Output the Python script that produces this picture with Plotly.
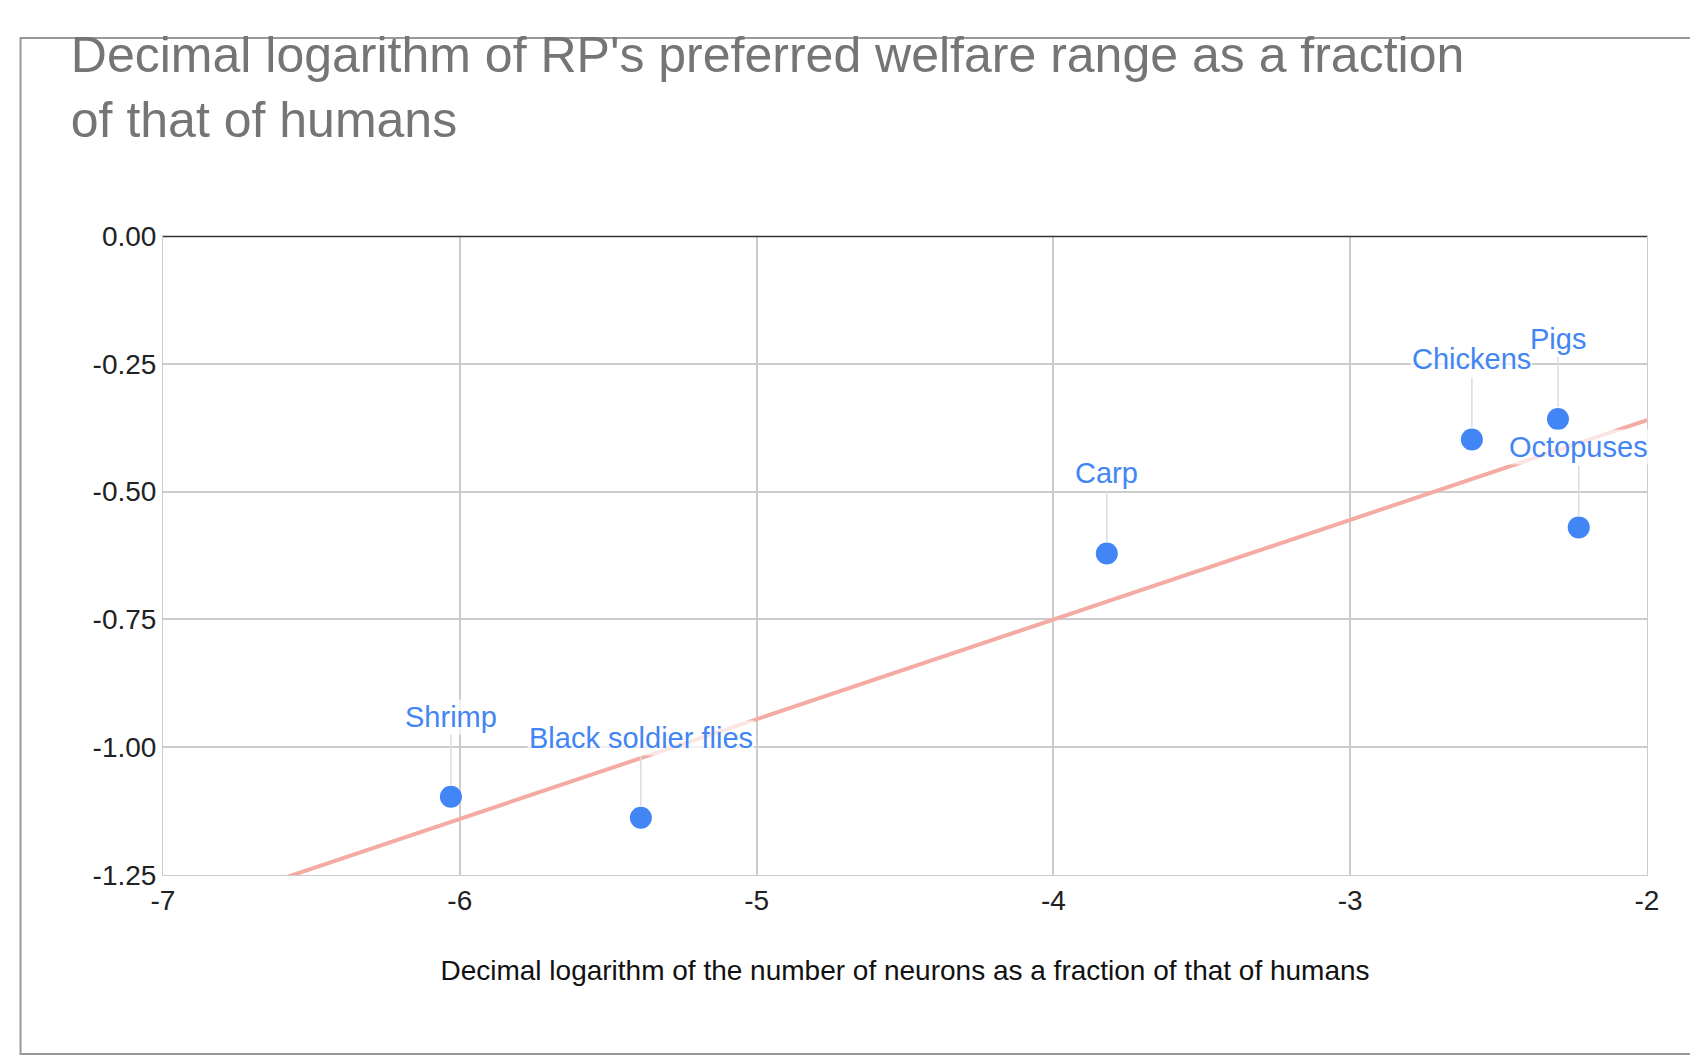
import numpy as np
import plotly.graph_objects as go

names = ["Shrimp", "Black soldier flies", "Carp", "Chickens", "Pigs", "Octopuses"]
x_vals = [-6.03, -5.39, -3.82, -2.59, -2.30, -2.23]
y_vals = [-1.097, -1.138, -0.621, -0.398, -0.358, -0.570]
x_ticks = [-7, -6, -5, -4, -3, -2]
x_tick_labels = ["-7", "-6", "-5", "-4", "-3", "-2"]
y_ticks = [0, -0.25, -0.5, -0.75, -1.0, -1.25]
y_tick_labels = ["0.00", "-0.25", "-0.50", "-0.75", "-1.00", "-1.25"]

slope, intercept = np.polyfit(x_vals, y_vals, 1)
tx = np.array([-7, -2])
ty = slope * tx + intercept

F = "Liberation Sans"
fig = go.Figure()
fig.add_trace(go.Scatter(x=tx, y=ty, mode="lines", line=dict(color="#f4aba3", width=4), hoverinfo="skip"))
fig.add_trace(go.Scatter(x=x_vals, y=y_vals, mode="markers", marker=dict(color="#4285f4", size=22)))

for n, x, y in zip(names, x_vals, y_vals):
    fig.add_annotation(x=x, y=y, text=n, showarrow=True, arrowhead=0, arrowcolor="#dddddd",
                       arrowwidth=1.5, ax=0, ay=-62, font=dict(color="#4285f4", size=29, family=F),
                       standoff=12, yanchor="bottom", bgcolor="rgba(255,255,255,0.7)")

fig.update_layout(
    width=1698, height=1063, paper_bgcolor="white", plot_bgcolor="white", showlegend=False,
    title=dict(text="Decimal logarithm of RP's preferred welfare range as a fraction<br>of that of humans",
               x=0.037, xanchor="left", y=0.94, yanchor="top",
               font=dict(size=50, color="#757575", family=F)),
    margin=dict(l=155, r=1698-1639, t=228, b=1063-867),
    xaxis=dict(range=[-7, -2], tickvals=x_ticks, ticktext=x_tick_labels, showgrid=True,
               gridcolor="#cccccc", gridwidth=2,
               zeroline=False, showline=True, linecolor="#cccccc", mirror=True,
               tickfont=dict(size=28, color="#222", family=F), ticks="",
               title=dict(text="Decimal logarithm of the number of neurons as a fraction of that of humans",
                          font=dict(size=28, color="#111", family=F), standoff=45)),
    yaxis=dict(range=[-1.25, 0], tickvals=y_ticks, ticktext=y_tick_labels, showgrid=True,
               gridcolor="#cccccc", gridwidth=2,
               zeroline=False, showline=True, linecolor="#cccccc", mirror=True,
               tickfont=dict(size=28, color="#222", family=F), ticks="", ticklen=10),
)
fig.add_hline(y=0, line=dict(color="#333", width=2.5))
fig.add_shape(type="rect", xref="paper", yref="paper", x0=-0.096, x1=1.038, y0=-0.28, y1=1.31,
              line=dict(color="#999", width=2))
fig.write_html("out.html")
